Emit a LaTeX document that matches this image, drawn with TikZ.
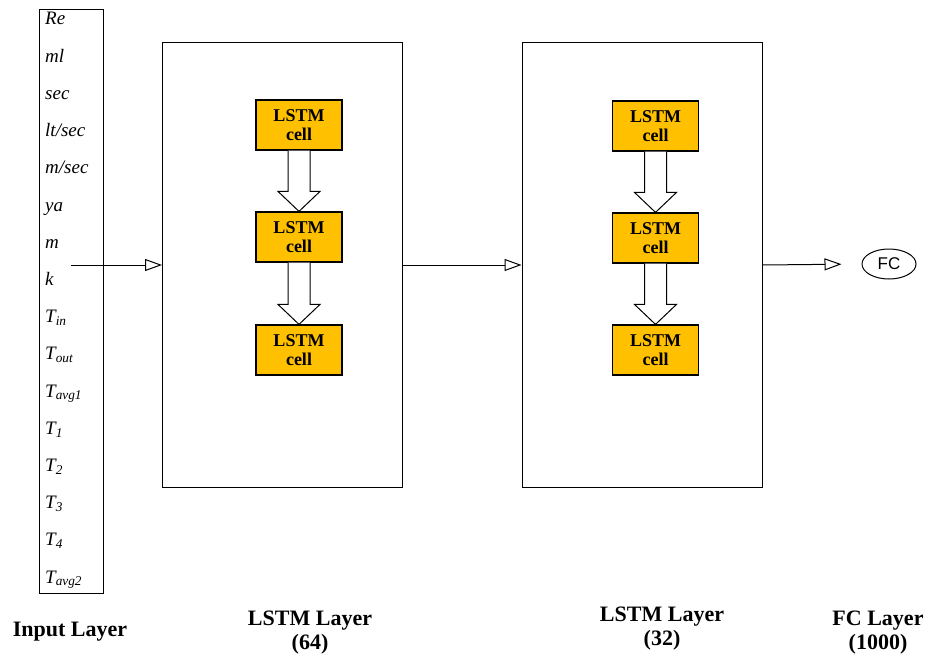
\documentclass[tikz,border=0pt]{standalone}
\usepackage{fontspec}
\setmainfont{Liberation Serif}
\newfontfamily\fcfont{Liberation Sans}
\usetikzlibrary{arrows.meta,shapes.geometric,calc}

\definecolor{cellgold}{RGB}{255,192,0}

% hollow block arrow from one cell down to the next
\newcommand{\cellarrow}[2]{%
\draw[line width=1pt, fill=white] ($(#1.south)+(-11,0)$) -- ($(#2.north)+(-11,-20)$) -- ($(#2.north)+(-21,-20)$) -- (#2.north) -- ($(#2.north)+(21,-20)$) -- ($(#2.north)+(11,-20)$) -- ($(#1.south)+(11,0)$);}

\tikzset{
  layerbox/.style={draw, line width=1pt, minimum width=240, minimum height=444},
  cellbox/.style={draw, line width=1.2pt, fill=cellgold, minimum width=86, minimum height=50, align=center, inner sep=0pt, font=\fontsize{18}{19}\selectfont\bfseries},
  inlabel/.style={anchor=base west, inner sep=0pt, font=\fontsize{19}{19}\selectfont\itshape},
  caption/.style={align=center, font=\fontsize{22}{24}\selectfont\bfseries},
  flow/.style={line width=1pt, -{Triangle[open, length=17pt, width=12pt]}}
}

\begin{document}
\begin{tikzpicture}[x=1pt, y=-1pt]

\useasboundingbox (0,0) rectangle (928,661);

% input column
\node[draw, line width=1pt, minimum width=64, minimum height=583, inner sep=0pt] (inp) at (71,301.5) {};
\foreach \t [count=\i] in {Re, ml, sec, lt/sec, m/sec, ya, m, k, {T\textsubscript{in}}, {T\textsubscript{out}}, {T\textsubscript{avg1}}, {T\textsubscript{1}}, {T\textsubscript{2}}, {T\textsubscript{3}}, {T\textsubscript{4}}, {T\textsubscript{avg2}}}
  \node[inlabel] (in\i) at (45, {25+37.2*(\i-1)}) {\t};

% lstm layers
\node[layerbox] (lstmA) at (282.5,265) {};
\node[layerbox] (lstmB) at (642,265) {};

\node[cellbox] (a1) at (299,125) {LSTM\\cell};
\node[cellbox] (a2) at (299,237) {LSTM\\cell};
\node[cellbox] (a3) at (299,350) {LSTM\\cell};

\node[cellbox] (b1) at (655.5,126) {LSTM\\cell};
\node[cellbox] (b2) at (655.5,238) {LSTM\\cell};
\node[cellbox] (b3) at (655.5,350) {LSTM\\cell};

\cellarrow{a1}{a2}
\cellarrow{a2}{a3}
\cellarrow{b1}{b2}
\cellarrow{b2}{b3}

% fully connected output
\node[draw, ellipse, line width=1pt, minimum width=54, minimum height=30, inner sep=0pt, font=\fontsize{17}{17}\fcfont] (fc) at (889,264) {FC};

\draw[flow] (inp.center |- lstmA.west) -- (lstmA.west);
\draw[flow] (lstmA.east) -- (lstmB.west);
\draw[flow, shorten >=20pt] (lstmB.east) -- (fc.west);

% captions
\node[caption] (capIn) at (70,632) {Input Layer};
\node[caption] (capA) at (310,633) {LSTM Layer\\(64)};
\node[caption] (capB) at (662,629) {LSTM Layer\\(32)};
\node[caption] (capFC) at (878,633) {FC Layer\\(1000)};

\end{tikzpicture}
\end{document}
